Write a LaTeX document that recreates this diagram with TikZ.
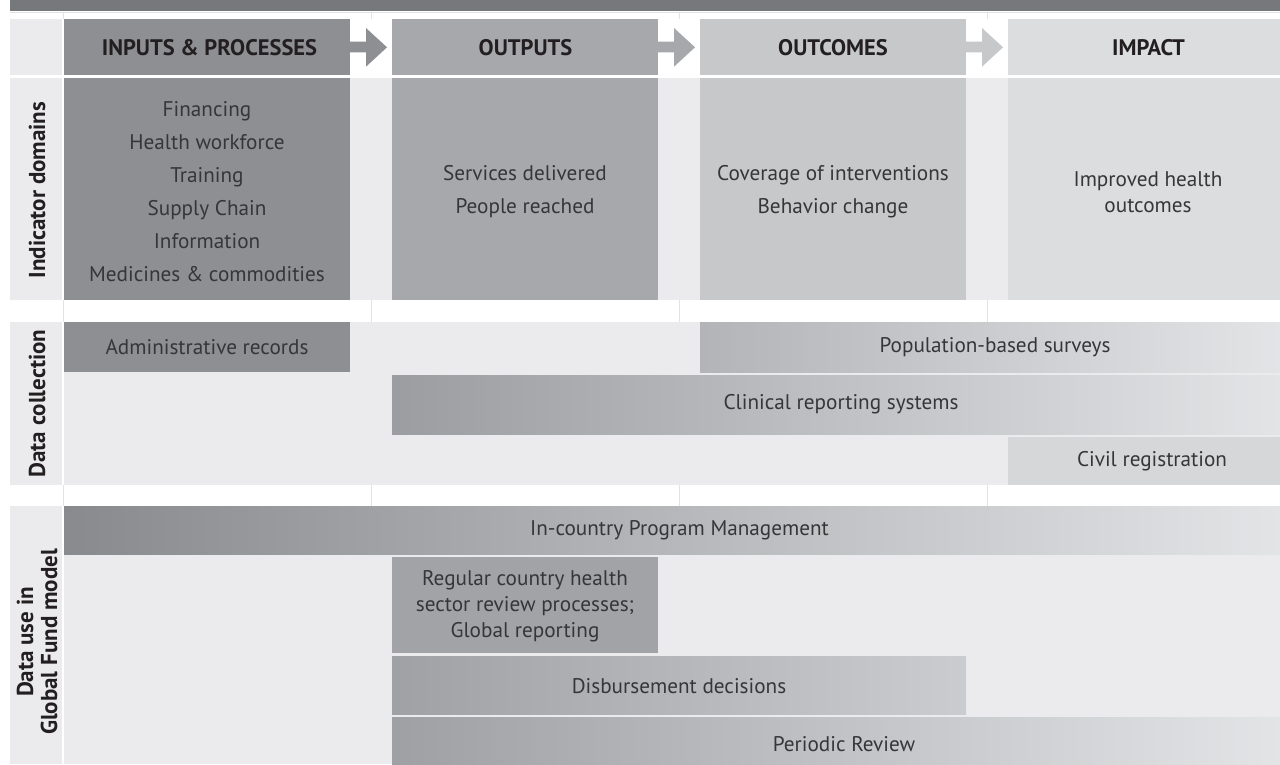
\documentclass[tikz,border=0pt]{standalone}
\usepackage{fontspec}
\setmainfont{PT Sans}
\definecolor{topbar}{HTML}{77787B}
\definecolor{lightbg}{HTML}{EBEBED}
\definecolor{gridln}{HTML}{E2E2E4}
\definecolor{cA}{HTML}{8E8F92}
\definecolor{cB}{HTML}{A7A8AB}
\definecolor{cC}{HTML}{C7C8CA}
\definecolor{cD}{HTML}{DCDDDF}
\definecolor{txt}{HTML}{363638}
\definecolor{txtb}{HTML}{231F20}
\definecolor{popL}{HTML}{B3B4B7}
\definecolor{barR}{HTML}{E3E4E6}
\definecolor{clinL}{HTML}{9C9DA0}
\definecolor{civil}{HTML}{D6D7D9}
\definecolor{icpL}{HTML}{898A8D}
\definecolor{regc}{HTML}{A2A3A6}
\definecolor{disL}{HTML}{A0A1A4}
\definecolor{disR}{HTML}{CBCCCF}
\definecolor{perL}{HTML}{9FA0A3}
\tikzset{
  hdr/.style={font=\bfseries\fontsize{22.5}{25}\selectfont, text=txtb, inner sep=0pt},
  body/.style={font=\fontsize{21.2}{33}\selectfont, text=txt, align=center, inner sep=0pt},
  bodytight/.style={font=\fontsize{21.2}{26}\selectfont, text=txt, align=center, inner sep=0pt},
  sidelbl/.style={font=\bfseries\fontsize{23}{24}\selectfont, text=txtb, rotate=90, align=center, inner sep=0pt},
  grid/.style={draw=gridln, line width=1pt}
}
\begin{document}
\begin{tikzpicture}[x=1pt,y=-1pt]
\useasboundingbox (0,0) rectangle (1280,764);
\fill[white] (0,0) rectangle (1280,764);
% top bar
\fill[topbar] (10,0) rectangle (1280,11);
% faint grid lines in white strips
\draw[grid] (10,12.5) -- (1280,12.5);
\foreach \gx in {63,371,679,987} {
  \draw[grid] (\gx,12) -- (\gx,19);
  \draw[grid] (\gx,300) -- (\gx,322);
  \draw[grid] (\gx,485) -- (\gx,506);
}
% header row
\fill[lightbg] (10,19) rectangle (62,75);
\fill[cA] (64,19) rectangle (350,75);
\fill[cB] (392,19) rectangle (658,75);
\fill[cC] (700,19) rectangle (966,75);
\fill[cD] (1008,19) rectangle (1280,75);
% arrows
\fill[cA] (350,41.7) -- (366,41.7) -- (366,28) -- (387,47.3) -- (366,66.7) -- (366,52.3) -- (350,52.3) -- cycle;
\fill[cB] (658,41.7) -- (674,41.7) -- (674,28) -- (695,47.3) -- (674,66.7) -- (674,52.3) -- (658,52.3) -- cycle;
\fill[cC] (966,41.7) -- (982,41.7) -- (982,28) -- (1003,47.3) -- (982,66.7) -- (982,52.3) -- (966,52.3) -- cycle;
\node[hdr] (h1) at (209.5,47.5) {INPUTS \& PROCESSES};
\node[hdr] (h2) at (525.5,47.5) {OUTPUTS};
\node[hdr] (h3) at (833,47.5) {OUTCOMES};
\node[hdr] (h4) at (1148.5,47.5) {IMPACT};
% row 1: indicator domains
\fill[lightbg] (10,78) rectangle (62,300);
\fill[lightbg] (64,78) rectangle (1280,300);
\fill[cA] (64,78) rectangle (350,300);
\fill[cB] (392,78) rectangle (658,300);
\fill[cC] (700,78) rectangle (966,300);
\fill[cD] (1008,78) rectangle (1280,300);
\node[sidelbl] (l1) at (37,190) {Indicator domains};
\node[body] (d1) at (207,192) {Financing\\Health workforce\\Training\\Supply Chain\\Information\\Medicines \& commodities};
\node[body] (d2) at (525,192) {Services delivered\\People reached};
\node[body] (d3) at (833,192) {Coverage of interventions\\Behavior change};
\node[bodytight] (d4) at (1148,192) {Improved health\\outcomes};
% row 2: data collection
\fill[lightbg] (10,322) rectangle (62,485);
\fill[lightbg] (64,322) rectangle (1280,485);
\fill[cA] (64,322) rectangle (350,372);
\shade[left color=popL, right color=barR] (700,322) rectangle (1280,372);
\shade[left color=clinL, right color=barR] (392,375) rectangle (1280,434);
\fill[civil] (1008,437) rectangle (1280,485);
\node[sidelbl] (l2) at (37,403.5) {Data collection};
\node[body] (s1) at (207,347) {Administrative records};
\node[body] (s2) at (995,347) {Population-based surveys};
\node[body] (s3) at (841,404.5) {Clinical reporting systems};
\node[body] (s4) at (1152,461) {Civil registration};
% row 3: data use
\fill[lightbg] (10,506) rectangle (62,764);
\fill[lightbg] (64,506) rectangle (1280,764);
\shade[left color=icpL, right color=barR] (64,506) rectangle (1280,554.5);
\fill[regc] (392,557) rectangle (658,653);
\shade[left color=disL, right color=disR] (392,656) rectangle (966,714);
\shade[left color=perL, right color=barR] (392,717.5) rectangle (1280,764);
\node[sidelbl] (l3) at (37,642) {Data use in\\Global Fund model};
\node[body] (u1) at (679.5,530) {In-country Program Management};
\node[bodytight] (u2) at (525,606) {Regular country health\\sector review processes;\\Global reporting};
\node[body] (u3) at (679,686) {Disbursement decisions};
\node[body] (u4) at (844,744) {Periodic Review};
\end{tikzpicture}
\end{document}
